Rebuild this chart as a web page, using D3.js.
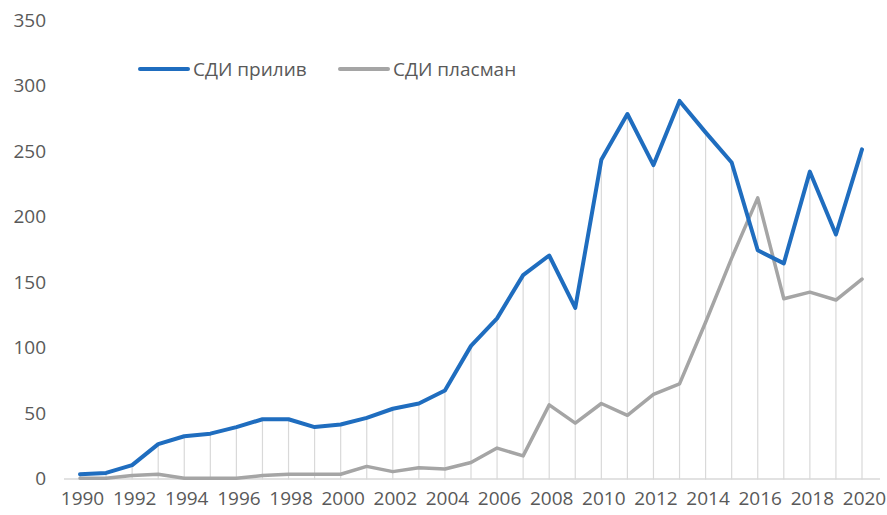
<!DOCTYPE html>
<html><head><meta charset="utf-8">
<script src="https://cdn.jsdelivr.net/npm/d3@7"></script>
<style>body{margin:0;background:#fff}svg{display:block}</style>
</head><body>
<svg id="c" width="887" height="515"></svg>
<script>
const years = d3.range(1990, 2021);
const inflow = [4,5,11,27,33,35,40,46,46,40,42,47,54,58,68,102,123,156,171,131,244,279,240,289,265,242,175,165,235,187,252];
const outflow = [1,1,3,4,1,1,1,3,4,4,4,10,6,9,8,13,24,18,57,43,58,49,65,73,120,169,215,138,143,137,153];
const yTicks = [0,50,100,150,200,250,300,350];
const xTicks = d3.range(1990, 2021, 2);
const seriesNames = ["СДИ прилив", "СДИ пласман"];
const colors = ["#1f6dbf", "#a5a5a5"];

const svg = d3.select("#c");
const x = d3.scaleLinear().domain([1990, 2020]).range([80, 862]);
const y = d3.scaleLinear().domain([0, 350]).range([479.5, 21]);
const font = "'Open Sans', sans-serif";

// drop lines
svg.append("g").selectAll("line").data(years).join("line")
  .attr("x1", d => x(d)).attr("x2", d => x(d))
  .attr("y1", y(0)).attr("y2", (d, i) => y(Math.max(inflow[i], outflow[i])))
  .attr("stroke", "#d9d9d9").attr("stroke-width", 1.2);

// baseline
svg.append("line").attr("x1", 64).attr("x2", 880).attr("y1", y(0) - 0.5).attr("y2", y(0) - 0.5)
  .attr("stroke", "#d9d9d9").attr("stroke-width", 1.5);

// y axis
const yAxis = d3.axisLeft(y).tickValues(yTicks).tickSize(0).tickPadding(0);
const yg = svg.append("g").attr("transform", "translate(46,-1)").call(yAxis);
yg.select(".domain").remove();
yg.selectAll("text").attr("font-family", font).attr("font-size", 19).attr("fill", "#595959");

// x axis
const xAxis = d3.axisBottom(x).tickValues(xTicks).tickFormat(d3.format("d")).tickSize(0).tickPadding(0);
const xg = svg.append("g").attr("transform", "translate(2,491)").call(xAxis);
xg.select(".domain").remove();
xg.selectAll("text").attr("font-family", font).attr("font-size", 19).attr("fill", "#595959");

const line = d3.line().x((d, i) => x(years[i])).y(d => y(d));
svg.append("path").datum(outflow).attr("d", line).attr("fill", "none")
  .attr("stroke", colors[1]).attr("stroke-width", 3.5).attr("stroke-linejoin", "round").attr("stroke-linecap", "round");
svg.append("path").datum(inflow).attr("d", line).attr("fill", "none")
  .attr("stroke", colors[0]).attr("stroke-width", 4).attr("stroke-linejoin", "round").attr("stroke-linecap", "round");

// legend
const lg = svg.append("g");
const lx = [140, 340];
seriesNames.forEach((n, i) => {
  lg.append("line").attr("x1", lx[i]).attr("x2", lx[i] + 48).attr("y1", 69).attr("y2", 69)
    .attr("stroke", colors[i]).attr("stroke-width", 4).attr("stroke-linecap", "round");
  lg.append("text").attr("x", lx[i] + 53).attr("y", 69).attr("dy", "0.35em")
    .attr("font-family", font).attr("font-size", 19).attr("fill", "#595959").text(n);
});
</script>
</body></html>
